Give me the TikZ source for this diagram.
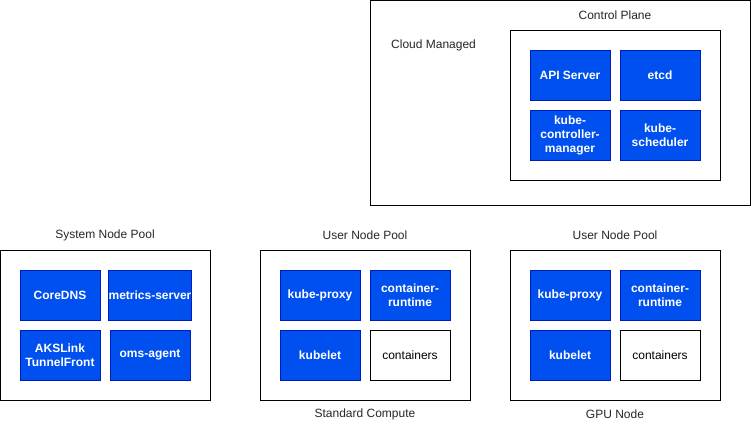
\documentclass[tikz,border=0pt]{standalone}
\usepackage{fontspec}
\setmainfont{Liberation Sans}
\usetikzlibrary{positioning}
\definecolor{aksblue}{HTML}{0050EF}
\definecolor{aksedge}{HTML}{001DBC}
\tikzset{
  pool/.style={draw=black,fill=white,line width=1pt,minimum width=210pt,minimum height=150pt,inner sep=0pt},
  comp/.style={draw=aksedge,fill=aksblue,text=white,line width=0.8pt,minimum width=80pt,minimum height=50pt,
    inner sep=0pt,align=center,font=\fontsize{12}{14}\selectfont\bfseries},
  plain/.style={comp,draw=black,fill=white,text=black,font=\fontsize{12}{14}\selectfont},
  caption/.style={text=black!85,font=\fontsize{12}{14}\selectfont,inner sep=0pt}
}
\begin{document}
\begin{tikzpicture}[x=1pt,y=-1pt]
\useasboundingbox (0,0) rectangle (751,431);
% cloud managed part
\node[pool,minimum width=380pt,minimum height=205pt] (cloud) at (560,102.5) {};
\node[caption,anchor=west] (cloudlbl) at (391,45) {Cloud Managed};
\node[pool] (ctrl) at (615,105) {};
\node[caption] (ctrllbl) at (615,15) {Control Plane};
\node[comp] (api) at (570,75) {API Server};
\node[comp] (etcd) at (660,75) {etcd};
\node[comp] (kcm) at (570,135) {kube-\\controller-\\manager};
\node[comp] (sched) at (660,135) {kube-\\scheduler};
% system node pool
\node[pool] (sys) at (105,325) {};
\node[caption] (syslbl) at (105,235) {System Node Pool};
\node[comp] (dns) at (60,295) {CoreDNS};
\node[comp] (metrics) at (150,295) {metrics-server};
\node[comp] (tunnel) at (60,355) {AKSLink\\TunnelFront};
\node[comp] (oms) at (150,355) {oms-agent};
% user node pool, standard compute
\node[pool] (std) at (365,325) {};
\node[caption] (stdlbl) at (365,235) {User Node Pool};
\node[caption] (stdname) at (365,414) {Standard Compute};
\node[comp] (stdproxy) at (320,295) {kube-proxy};
\node[comp] (stdrt) at (410,295) {container-\\runtime};
\node[comp] (stdkubelet) at (320,355) {kubelet};
\node[plain] (stdcont) at (410,355) {containers};
% user node pool, gpu node
\node[pool] (gpu) at (615,325) {};
\node[caption] (gpulbl) at (615,235) {User Node Pool};
\node[caption] (gpuname) at (615,414) {GPU Node};
\node[comp] (gpuproxy) at (570,295) {kube-proxy};
\node[comp] (gpurt) at (660,295) {container-\\runtime};
\node[comp] (gpukubelet) at (570,355) {kubelet};
\node[plain] (gpucont) at (660,355) {containers};
\end{tikzpicture}
\end{document}
